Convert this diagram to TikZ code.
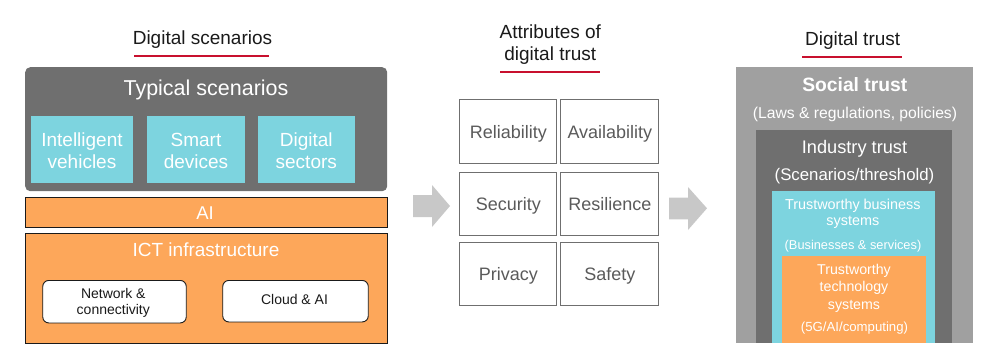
\documentclass[tikz,border=0pt]{standalone}
\usepackage{fontspec}
\setmainfont{Liberation Sans}
\definecolor{dgray}{HTML}{6F6F6F}
\definecolor{lgray}{HTML}{A0A0A0}
\definecolor{cyanbox}{HTML}{7DD4DF}
\definecolor{orangebox}{HTML}{FDA75A}
\definecolor{arrowgray}{HTML}{C8C8C8}
\definecolor{redline}{HTML}{C8102E}
\definecolor{titlec}{HTML}{1A1A1A}
\definecolor{gridtext}{HTML}{5A5A5A}
\definecolor{gridline}{HTML}{6F6F6F}
\begin{document}
\begin{tikzpicture}[x=1pt,y=-1pt,
  lbl/.style={inner sep=0pt, anchor=base},
  wlbl/.style={lbl, text=white},
  title/.style={lbl, text=titlec, font=\fontsize{19}{19}\selectfont},
  uline/.style={draw=redline, line width=2.3pt},
  fbox/.style={inner sep=0pt, anchor=north west, minimum width=#1},
  cell/.style={draw=gridline, line width=1.1pt, inner sep=0pt, anchor=north west,
    minimum width=97pt, minimum height=63pt, text=gridtext,
    font=\fontsize{18}{18}\selectfont, text height=12.9pt, text depth=0pt},
  blockarrow/.style={fill=arrowgray, draw=none}
]
\useasboundingbox (0,0) rectangle (999,351);

% ---------- Left column ----------
\node[title] (t1) at (202.5,44.3) {Digital scenarios};
\draw[uline] (134,55.7) -- (269,55.7);

\node[fbox=362pt, minimum height=124pt, fill=dgray, rounded corners=5pt] (typ) at (25,67) {};
\node[wlbl, font=\fontsize{21.5}{21.5}\selectfont] (typt) at (206,95) {Typical scenarios};

\node[fbox=102pt, minimum height=67pt, fill=cyanbox] (c1) at (31,116) {};
\node[fbox=98pt, minimum height=67pt, fill=cyanbox] (c2) at (147,116) {};
\node[fbox=97pt, minimum height=67pt, fill=cyanbox] (c3) at (258,116) {};
\begin{scope}[every node/.style={wlbl, font=\fontsize{19}{19}\selectfont}]
\node (c1a) at (82,146.5) {Intelligent};
\node (c1b) at (82,168.5) {vehicles};
\node (c2a) at (196,146.5) {Smart};
\node (c2b) at (196,168.5) {devices};
\node (c3a) at (306.3,146.5) {Digital};
\node (c3b) at (306.3,168.5) {sectors};
\end{scope}

\node[fbox=362pt, minimum height=30pt, fill=orangebox, draw=titlec, line width=1.1pt] (ai) at (25,197.3) {};
\node[wlbl, font=\fontsize{18.5}{18.5}\selectfont] (ait) at (205,219.5) {AI};

\node[fbox=362pt, minimum height=110pt, fill=orangebox, draw=titlec, line width=1.1pt] (ict) at (25,233.3) {};
\node[wlbl, font=\fontsize{19}{19}\selectfont] (ictt) at (206,256) {ICT infrastructure};

\node[fbox=143.5pt, minimum height=42.5pt, fill=white, draw=titlec, line width=0.9pt, rounded corners=6pt] (net) at (42.3,280) {};
\node[lbl, text=titlec, font=\fontsize{14}{14}\selectfont] (neta) at (113.3,298.3) {Network \&};
\node[lbl, text=titlec, font=\fontsize{14}{14}\selectfont] (netb) at (113.3,314) {connectivity};
\node[fbox=145.5pt, minimum height=41.5pt, fill=white, draw=titlec, line width=0.9pt, rounded corners=6pt] (cld) at (222.3,280) {};
\node[lbl, text=titlec, font=\fontsize{14}{14}\selectfont] (cldt) at (294.5,304.3) {Cloud \& AI};

% ---------- Arrows ----------
\fill[blockarrow] (413,195) -- (432,195) -- (432,185) -- (450,206) -- (432,227) -- (432,217) -- (413,217) -- cycle;
\fill[blockarrow] (669,197.5) -- (688,197.5) -- (688,187) -- (707,208.3) -- (688,230) -- (688,219.3) -- (669,219.3) -- cycle;

% ---------- Middle column ----------
\node[title] (t2a) at (550.3,38.3) {Attributes of};
\node[title] (t2b) at (550.3,60.5) {digital trust};
\draw[uline] (500,71.7) -- (600,71.7);

\node[cell, minimum height=64pt] (rel) at (459.3,99.3) {Reliability};
\node[cell, minimum width=98pt, minimum height=64pt] (ava) at (560.3,99.3) {Availability};
\node[cell] (sec) at (459.3,171.5) {Security};
\node[cell, minimum width=98pt] (res) at (560.3,171.5) {Resilience};
\node[cell] (pri) at (459.3,242.3) {Privacy};
\node[cell, minimum width=98pt] (saf) at (560.3,242.3) {Safety};

% ---------- Right column ----------
\node[title] (t3) at (852.7,45.7) {Digital trust};
\draw[uline] (802,56.7) -- (902,56.7);

\node[fbox=237pt, minimum height=276pt, fill=lgray] (soc) at (736,67) {};
\node[wlbl, font=\fontsize{19.3}{19.3}\selectfont\bfseries] (soct) at (854.8,91) {Social trust};
\node[wlbl, font=\fontsize{15.7}{15.7}\selectfont] (socs) at (855,118.3) {(Laws \& regulations, policies)};

\node[fbox=196pt, minimum height=213pt, fill=dgray] (ind) at (756,130) {};
\node[wlbl, font=\fontsize{18.2}{18.2}\selectfont] (indt) at (854.5,153.3) {Industry trust};
\node[wlbl, font=\fontsize{16.8}{16.8}\selectfont] (inds) at (854.5,180) {(Scenarios/threshold)};

\node[fbox=163pt, minimum height=152pt, fill=cyanbox] (bus) at (772,191) {};
\node[wlbl, font=\fontsize{14.4}{14.4}\selectfont] (busa) at (852.8,209.3) {Trustworthy business};
\node[wlbl, font=\fontsize{14.4}{14.4}\selectfont] (busb) at (852.8,225.7) {systems};
\node[wlbl, font=\fontsize{12.8}{12.8}\selectfont] (buss) at (853,249.3) {(Businesses \& services)};

\node[fbox=144pt, minimum height=87pt, fill=orangebox] (tec) at (782,256) {};
\node[wlbl, font=\fontsize{14.2}{14.2}\selectfont] (teca) at (854,274.3) {Trustworthy};
\node[wlbl, font=\fontsize{14.2}{14.2}\selectfont] (tecb) at (854,291.3) {technology};
\node[wlbl, font=\fontsize{14.2}{14.2}\selectfont] (tecc) at (854,309) {systems};
\node[wlbl, font=\fontsize{13.2}{13.2}\selectfont] (tecs) at (854.5,331.7) {(5G/AI/computing)};
\end{tikzpicture}
\end{document}
